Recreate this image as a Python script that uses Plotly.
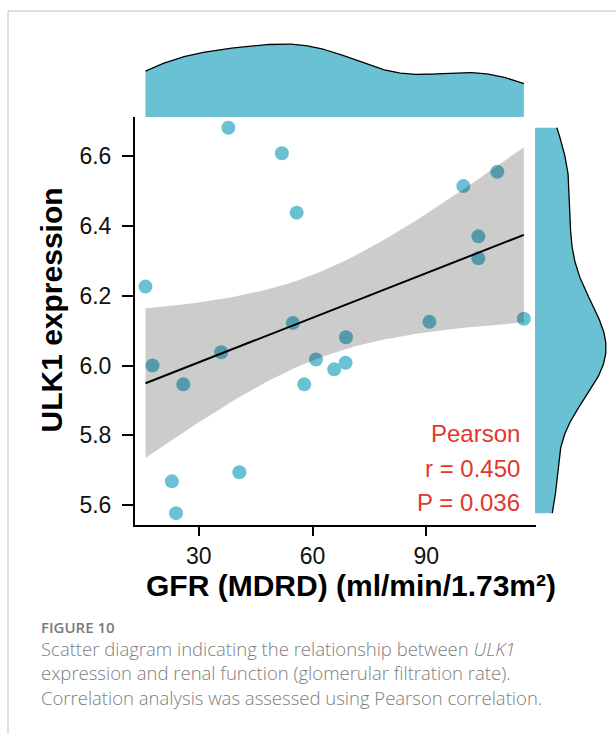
import numpy as np
import plotly.graph_objects as go

W, H = 616, 734

# ---- data ----
gfr = [15.95, 17.8, 25.9, 22.9, 24.0, 35.9, 37.8, 40.7, 51.9, 54.8, 55.8,
       57.8, 60.9, 65.7, 68.8, 68.7, 90.8, 99.75, 103.7, 103.7, 108.7, 115.7]
ulk1 = [6.226, 6.000, 5.946, 5.668, 5.577, 6.038, 6.681, 5.694, 6.608, 6.122, 6.438,
        5.946, 6.017, 5.989, 6.081, 6.008, 6.125, 6.514, 6.370, 6.307, 6.555, 6.134]
x_ticks = [30, 60, 90]
y_ticks = [5.6, 5.8, 6.0, 6.2, 6.4, 6.6]
stat_lines = ["Pearson", "r = 0.450", "P = 0.036"]
x_title = "GFR (MDRD) (ml/min/1.73m²)"
y_title = "ULK1 expression"
fig_label = "FIGURE 10"
caption_lines = [
    "Scatter diagram indicating the relationship between <i>ULK1</i>",
    "expression and renal function (glomerular filtration rate).",
    "Correlation analysis was assessed using Pearson correlation.",
]

TEAL = "#6BC1D4"
RED = "#E2372D"
FONT = "Liberation Sans, Arial, sans-serif"
CAP_FONT = "Open Sans, sans-serif"

x = np.array(gfr)
y = np.array(ulk1)
n = len(x)

# linear fit with 95% confidence band (as geom_smooth(method='lm'))
b1, b0 = np.polyfit(x, y, 1)
xg = np.linspace(x.min(), x.max(), 80)
yg = b0 + b1 * xg
resid = y - (b0 + b1 * x)
s = np.sqrt(np.sum(resid ** 2) / (n - 2))
sxx = np.sum((x - x.mean()) ** 2)
se = s * np.sqrt(1.0 / n + (xg - x.mean()) ** 2 / sxx)
tq = 2.086  # t(0.975, df=20)
lo, hi = yg - tq * se, yg + tq * se


def kde(v, grid):
    v = np.asarray(v)
    iqr = np.subtract(*np.percentile(v, [75, 25]))
    bw = 0.9 * min(v.std(ddof=1), iqr / 1.34) * len(v) ** -0.2
    z = (grid[:, None] - v[None, :]) / bw
    return np.exp(-0.5 * z ** 2).sum(axis=1) / (len(v) * bw * np.sqrt(2 * np.pi))


gx = np.linspace(x.min(), x.max(), 256)
dx = kde(x, gx)
gy = np.linspace(y.min(), y.max(), 256)
dy = kde(y, gy)


def px_x(p):
    return p / W


def px_y(p):
    return 1 - p / H


fig = go.Figure()

# main scatter
fig.add_trace(go.Scatter(x=x, y=y, mode="markers",
                         marker=dict(size=14, color=TEAL, line=dict(width=0)),
                         xaxis="x", yaxis="y", showlegend=False))
# confidence ribbon (drawn over points)
fig.add_trace(go.Scatter(x=np.concatenate([xg, xg[::-1]]),
                         y=np.concatenate([hi, lo[::-1]]),
                         fill="toself", fillcolor="rgba(0,0,0,0.2)",
                         line=dict(width=0), mode="lines",
                         xaxis="x", yaxis="y", showlegend=False, hoverinfo="skip"))
fig.add_trace(go.Scatter(x=xg, y=yg, mode="lines", line=dict(color="black", width=2),
                         xaxis="x", yaxis="y", showlegend=False))

# top marginal density
fig.add_trace(go.Scatter(x=gx, y=dx, mode="lines", fill="tozeroy",
                         fillcolor=TEAL, line=dict(width=0),
                         xaxis="x2", yaxis="y2", showlegend=False))
fig.add_trace(go.Scatter(x=gx, y=dx, mode="lines", line=dict(color="black", width=1.3),
                         xaxis="x2", yaxis="y2", showlegend=False))
# right marginal density
fig.add_trace(go.Scatter(x=dy, y=gy, mode="lines", fill="tozerox",
                         fillcolor=TEAL, line=dict(width=0),
                         xaxis="x3", yaxis="y3", showlegend=False))
fig.add_trace(go.Scatter(x=dy, y=gy, mode="lines", line=dict(color="black", width=1.3),
                         xaxis="x3", yaxis="y3", showlegend=False))

main_x0, main_x1 = 135, 536
main_y0, main_y1 = 117, 525
xr = [13.18, 118.9]
yr = [5.543, 6.712]

axis_common = dict(showgrid=False, zeroline=False)

top_h = 117 - 30
right_w = 616 - 535
tick_font = dict(size=23, color="#111", family=FONT)

fig.update_layout(
    width=W, height=H, margin=dict(l=0, r=0, t=0, b=0),
    paper_bgcolor="white", plot_bgcolor="rgba(0,0,0,0)",
    font=dict(family=FONT, color="black"),
    xaxis=dict(domain=[px_x(main_x0), px_x(main_x1)], range=xr, tickvals=x_ticks,
               ticktext=[str(t) for t in x_ticks],
               showline=True, linecolor="black", linewidth=2, ticks="outside",
               ticklen=9, tickwidth=2, tickcolor="black",
               tickfont=tick_font, ticklabelstandoff=0,
               anchor="y", **axis_common),
    yaxis=dict(domain=[px_y(main_y1), px_y(main_y0)], range=yr, tickvals=y_ticks,
               ticktext=[f"{t:.1f}" for t in y_ticks],
               showline=True, linecolor="black", linewidth=2, ticks="outside",
               ticklen=11, tickwidth=2, tickcolor="black",
               tickfont=tick_font, ticklabelstandoff=6,
               anchor="x", **axis_common),
    xaxis2=dict(domain=[px_x(main_x0), px_x(main_x1)], range=xr, visible=False,
                anchor="y2", **axis_common),
    yaxis2=dict(domain=[px_y(117), px_y(30)], range=[0, dx.max() * top_h / 73],
                visible=False, anchor="x2", **axis_common),
    xaxis3=dict(domain=[px_x(535), 1.0], range=[0, dy.max() * right_w / 71],
                visible=False, anchor="y3", **axis_common),
    yaxis3=dict(domain=[px_y(main_y1), px_y(main_y0)], range=yr, visible=False,
                anchor="x3", **axis_common),
)

ann = []
# stats text
for i, t in enumerate(stat_lines):
    ann.append(dict(text=t, x=px_x(522), y=px_y(433 + 35 * i), xref="paper", yref="paper",
                    xanchor="right", yanchor="middle", showarrow=False,
                    font=dict(size=24, color=RED, family=FONT)))
# axis titles
ann.append(dict(text=f"<b>{x_title}</b>", x=px_x(351), y=px_y(585), xref="paper", yref="paper",
                xanchor="center", yanchor="middle", showarrow=False,
                font=dict(size=30, color="black", family=FONT)))
ann.append(dict(text=f"<b>{y_title}</b>", x=px_x(51), y=px_y(310.5), xref="paper", yref="paper",
                xanchor="center", yanchor="middle", showarrow=False, textangle=-90,
                font=dict(size=30, color="black", family=FONT)))
# caption
ann.append(dict(text=fig_label, x=px_x(39), y=px_y(627), xref="paper", yref="paper",
                xanchor="left", yanchor="middle", showarrow=False,
                font=dict(size=15, color="#7a7a7a", family=CAP_FONT, weight=600)))
for i, t in enumerate(caption_lines):
    ann.append(dict(text=t, x=px_x(39), y=px_y(648 + 24.5 * i), xref="paper", yref="paper",
                    xanchor="left", yanchor="middle", showarrow=False,
                    font=dict(size=18.5, color="#7d7d7d", family=CAP_FONT, weight=300)))
fig.update_layout(annotations=ann)

# page frame lines
fig.update_layout(shapes=[
    dict(type="line", xref="paper", yref="paper", x0=px_x(8), x1=1, y0=px_y(11), y1=px_y(11),
         line=dict(color="#d6d6d6", width=1.5)),
    dict(type="line", xref="paper", yref="paper", x0=px_x(8), x1=px_x(8), y0=px_y(11), y1=0,
         line=dict(color="#d6d6d6", width=1.5)),
])

fig.write_html("out.html")
